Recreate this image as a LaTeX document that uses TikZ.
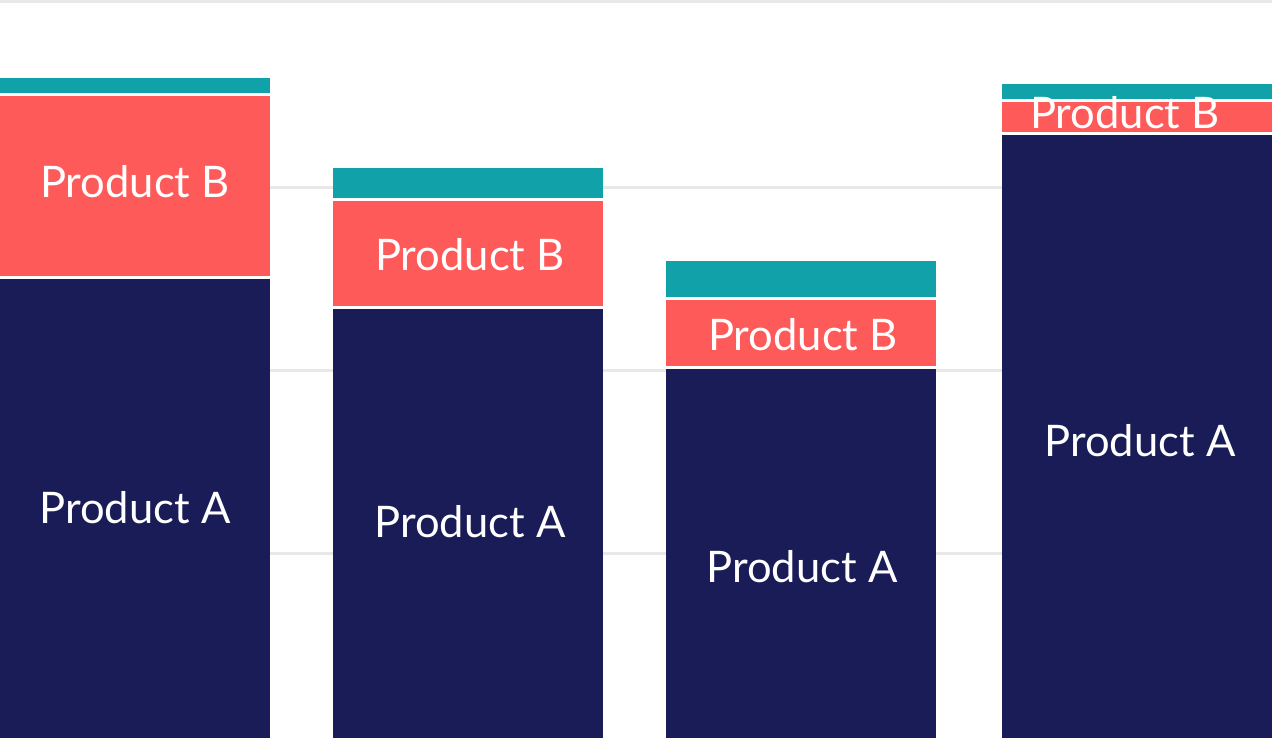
\documentclass[tikz,border=0pt]{standalone}
\usepackage{fontspec}
\setmainfont{Lato}
\usetikzlibrary{positioning}

\definecolor{gridgray}{HTML}{E8E8E8}
\definecolor{tealseg}{HTML}{10A2A8}
\definecolor{redseg}{HTML}{FF5A5A}
\definecolor{navyseg}{HTML}{191C57}

\begin{document}
\begin{tikzpicture}[x=1pt, y=-1pt]
            \tikzstyle{grid} = [draw=gridgray, line width=3pt]
            \tikzstyle{label} = [text=white, font=\fontsize{43.5}{50}\selectfont, inner sep=0pt]
            \useasboundingbox (0, 0) rectangle (1272, 738);
            % grid lines behind the bars
            \draw[grid] (0, 1.5) -- (1272, 1.5);
            \draw[grid] (0, 187.5) -- (1272, 187.5);
            \draw[grid] (0, 370.5) -- (1272, 370.5);
            \draw[grid] (0, 553.5) -- (1272, 553.5);
            % first bar
            \fill[tealseg] (0, 78) rectangle (270, 93);
            \fill[redseg] (0, 96) rectangle (270, 276);
            \fill[navyseg] (0, 279) rectangle (270, 738);
            % second bar
            \fill[tealseg] (333, 168) rectangle (603, 198);
            \fill[redseg] (333, 201) rectangle (603, 306);
            \fill[navyseg] (333, 309) rectangle (603, 738);
            % third bar
            \fill[tealseg] (666, 261) rectangle (936, 297);
            \fill[redseg] (666, 300) rectangle (936, 366);
            \fill[navyseg] (666, 369) rectangle (936, 738);
            % fourth bar
            \fill[tealseg] (1002, 84) rectangle (1272, 99);
            \fill[redseg] (1002, 102) rectangle (1272, 132);
            \fill[navyseg] (1002, 135) rectangle (1272, 738);
            % labels
            \node[label] (b1) at (135, 182) {Product B};
            \node[label] (a1) at (135, 508) {Product A};
            \node[label] (b2) at (470, 255) {Product B};
            \node[label] (a2) at (470, 522) {Product A};
            \node[label] (b3) at (803, 335) {Product B};
            \node[label] (a3) at (802, 567) {Product A};
            \node[label] (b4) at (1125, 113) {Product B};
            \node[label] (a4) at (1140, 441) {Product A};
        \end{tikzpicture}
\end{document}
